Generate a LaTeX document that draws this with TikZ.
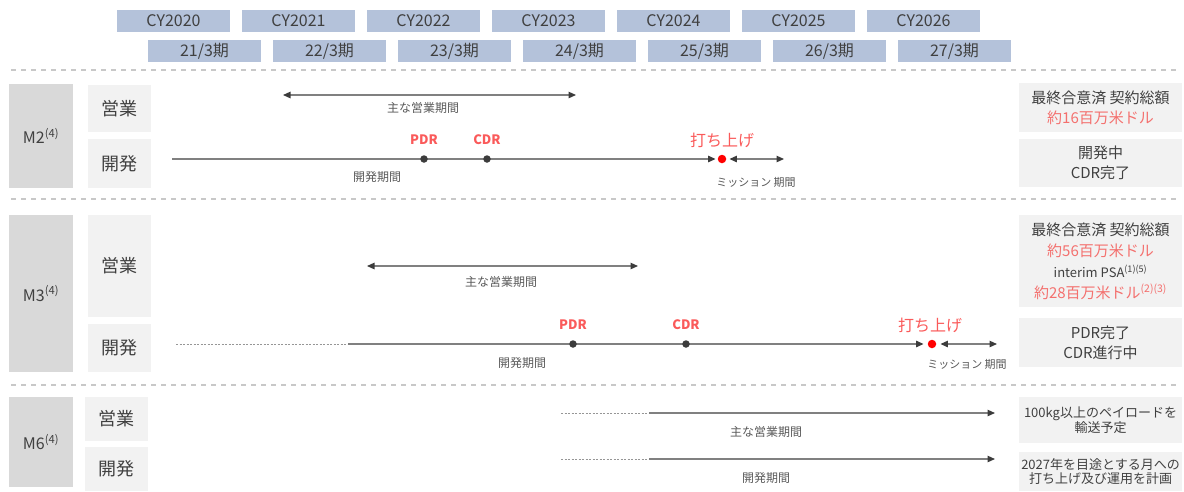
\documentclass[tikz,border=0pt]{standalone}
\usepackage{fontspec}
\setmainfont{Noto Sans CJK JP}
\usepackage{xcolor}
\usetikzlibrary{arrows.meta, positioning}

\definecolor{yearblue}{RGB}{180,194,218}
\definecolor{txtgray}{RGB}{64,64,64}
\definecolor{lblgray}{RGB}{89,89,89}
\definecolor{grpgray}{RGB}{217,217,217}
\definecolor{boxgray}{RGB}{242,242,242}
\definecolor{sepgray}{RGB}{200,200,200}
\definecolor{linegray}{RGB}{128,128,128}
\definecolor{dotgray}{RGB}{150,150,150}
\definecolor{tipgray}{RGB}{60,60,60}
\definecolor{labelred}{RGB}{250,90,90}
\definecolor{salmon}{RGB}{244,112,110}

\tikzset{
  yearbox/.style={fill=yearblue, minimum width=113pt, minimum height=22pt, inner sep=0pt,
    text=txtgray, font=\fontsize{16}{18}\selectfont},
  grpbox/.style={fill=grpgray, minimum width=64pt, inner sep=0pt, text=txtgray,
    font=\fontsize{16}{18}\selectfont},
  subbox/.style={fill=boxgray, minimum width=63pt, inner sep=0pt, text=txtgray,
    font=\fontsize{18}{20}\selectfont},
  notebox/.style={fill=boxgray, minimum width=163pt, inner sep=0pt, align=center,
    text=txtgray, font=\fontsize{15}{20}\selectfont},
  sepline/.style={sepgray, line width=1.5pt, dash pattern=on 5pt off 5pt},
  devline/.style={linegray, line width=1.2pt},
  dotline/.style={dotgray, line width=1pt, dash pattern=on 2pt off 1.5pt},
  tip/.tip={Triangle[length=7.5pt, width=6.5pt, color=tipgray]},
  spanarrow/.style={linegray, line width=1.2pt, {tip}-{tip}},
  msdot/.style={circle, fill=tipgray, inner sep=0pt, minimum size=7.5pt},
  launchdot/.style={circle, fill=red, inner sep=0pt, minimum size=8.5pt},
  periodlabel/.style={text=lblgray, inner sep=1pt, font=\fontsize{12}{14}\selectfont},
  misslabel/.style={text=lblgray, inner sep=1pt, font=\fontsize{11}{13}\selectfont},
  mslabel/.style={text=labelred, inner sep=1pt, font=\fontsize{13}{15}\selectfont\bfseries},
  launchlabel/.style={text=labelred, inner sep=1pt, font=\fontsize{16}{18}\selectfont}
}

\begin{document}
\begin{tikzpicture}[x=1pt, y=-1pt]
\useasboundingbox (0,0) rectangle (1184,491);

% year header
\foreach \yr [count=\i from 0] in {2020,...,2026}
  \node[yearbox] (cy\i) at (173.5+125*\i, 21) {CY\yr};
\foreach \fy [count=\i from 0] in {21,...,27}
  \node[yearbox] (fy\i) at (204.5+125*\i, 51) {\fy/3期};

% separators
\foreach \sy in {70,199,385}
  \draw[sepline] (11,\sy) -- (1178,\sy);

% M2
\node[grpbox, minimum height=104pt] (m2) at (41,136) {M2\textsuperscript{(4)}};
\node[subbox, minimum height=47pt] (m2sales) at (119.5,108.5) {営業};
\node[subbox, minimum height=49pt] (m2dev) at (119.5,163.5) {開発};
\node[notebox, minimum height=49pt] (m2note) at (1100.5,107.5)
  {最終合意済 契約総額\\\textcolor{salmon}{約16百万米ドル}};
\node[notebox, minimum height=48pt] (m2stat) at (1100.5,163) {開発中\\CDR完了};

\coordinate (m2sa) at (283,95);
\coordinate (m2sb) at (576,95);
\draw[spanarrow] (m2sa) -- (m2sb);
\node[periodlabel] (m2slab) at (423,108) {主な営業期間};

\coordinate (m2da) at (172,159);
\coordinate (m2me) at (784,159);
\node[launchdot] (m2lau) at (722,159) {};
\draw[devline, -{tip}, shorten >=2pt] (m2da) -- (m2lau);
\draw[spanarrow, shorten <=3pt] (m2lau) -- (m2me);
\node[msdot] (m2pdr) at (424,159) {};
\node[msdot] (m2cdr) at (487,159) {};
\node[mslabel] (m2pdrlab) at (424,140) {PDR};
\node[mslabel] (m2cdrlab) at (487,140) {CDR};
\node[launchlabel] (m2laulab) at (722,140) {打ち上げ};
\node[periodlabel] (m2dlab) at (377,177) {開発期間};
\node[misslabel] (m2mlab) at (756,182) {ミッション 期間};

% M3
\node[grpbox, minimum height=157pt] (m3) at (41,293.5) {M3\textsuperscript{(4)}};
\node[subbox, minimum height=102pt] (m3sales) at (119.5,266) {営業};
\node[subbox, minimum height=48pt] (m3dev) at (119.5,348) {開発};
\node[notebox, minimum height=92pt, font=\fontsize{15}{21}\selectfont] (m3note) at (1100.5,261)
  {最終合意済 契約総額\\\textcolor{salmon}{約56百万米ドル}\\
   {\fontsize{13}{21}\selectfont interim PSA\textsuperscript{(1)(5)}}\\
   \textcolor{salmon}{約28百万米ドル\textsuperscript{(2)(3)}}};
\node[notebox, minimum height=49pt] (m3stat) at (1100.5,342.5) {PDR完了\\CDR進行中};

\coordinate (m3sa) at (367,266);
\coordinate (m3sb) at (638,266);
\draw[spanarrow] (m3sa) -- (m3sb);
\node[periodlabel] (m3slab) at (501,282) {主な営業期間};

\coordinate (m3da) at (176,344);
\coordinate (m3db) at (348,344);
\coordinate (m3me) at (997,344);
\node[launchdot] (m3lau) at (932,344) {};
\draw[dotline] (m3da) -- (m3db);
\draw[devline, -{tip}, shorten >=4pt] (m3db) -- (m3lau);
\draw[spanarrow, shorten <=4pt] (m3lau) -- (m3me);
\node[msdot] (m3pdr) at (573,344) {};
\node[msdot] (m3cdr) at (686,344) {};
\node[mslabel] (m3pdrlab) at (573,325) {PDR};
\node[mslabel] (m3cdrlab) at (686,325) {CDR};
\node[launchlabel] (m3laulab) at (930,325) {打ち上げ};
\node[periodlabel] (m3dlab) at (522,363) {開発期間};
\node[misslabel] (m3mlab) at (967,364) {ミッション 期間};

% M6
\node[grpbox, minimum height=90pt] (m6) at (41,442) {M6\textsuperscript{(4)}};
\node[subbox, minimum height=44pt] (m6sales) at (116.5,419) {営業};
\node[subbox, minimum height=44pt] (m6dev) at (116.5,469) {開発};
\node[notebox, minimum height=46pt, font=\fontsize{13}{14}\selectfont] (m6note) at (1100.5,420)
  {100kg以上のペイロードを\\輸送予定};
\node[notebox, minimum height=39pt, font=\fontsize{13}{14}\selectfont] (m6stat) at (1100.5,471.5)
  {2027年を目途とする月への\\打ち上げ及び運用を計画};

\coordinate (m6sa) at (561,413);
\coordinate (m6sb) at (649,413);
\coordinate (m6sc) at (995,413);
\draw[dotline] (m6sa) -- (m6sb);
\draw[devline, -{tip}] (m6sb) -- (m6sc);
\node[periodlabel] (m6slab) at (766,432) {主な営業期間};

\coordinate (m6da) at (561,459);
\coordinate (m6db) at (649,459);
\coordinate (m6dc) at (995,459);
\draw[dotline] (m6da) -- (m6db);
\draw[devline, -{tip}] (m6db) -- (m6dc);
\node[periodlabel] (m6dlab) at (766,478) {開発期間};
\end{tikzpicture}
\end{document}
